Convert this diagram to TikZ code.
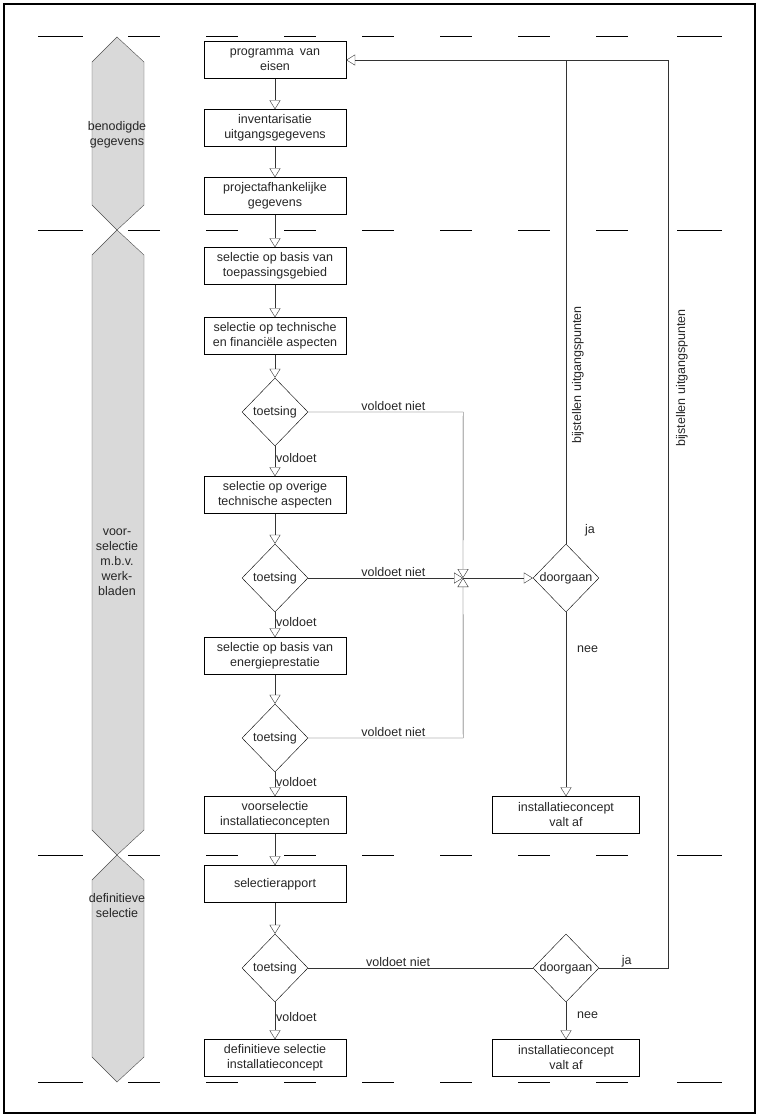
\documentclass[tikz,border=0pt]{standalone}
\usepackage{fontspec}
\setmainfont{Liberation Sans}
\usetikzlibrary{arrows.meta,shapes.geometric}

\begin{document}
\begin{tikzpicture}[
  x=1pt, y=-1pt,
  every node/.style={font=\fontsize{12.5}{15}\selectfont, text=black!85},
  bnode/.style={draw,rectangle,minimum width=142pt,minimum height=37pt,inner sep=1pt,align=center},
  vnode/.style={draw,rectangle,minimum width=147pt,minimum height=37pt,inner sep=1pt,align=center},
  dnode/.style={draw,diamond,minimum width=66pt,minimum height=68pt,inner sep=-3pt},
  hexa/.style={draw=black!70,fill=black!15},
  lbl/.style={inner sep=1pt},
  flow/.style={draw=black!80,-{Triangle[open,length=9pt,width=11pt]}},
  line/.style={draw=black!80}
]
  % frame and phase lines
  \useasboundingbox (0,0) rectangle (759,1117);
  \draw[line width=1.6pt] (4,4) rectangle (755,1113);
  \foreach \y in {36,230,855,1082} {
    \draw (38,\y) -- (83,\y);
    \foreach \x in {128,206,...,600} \draw (\x,\y) -- ++(32,0);
    \draw (677,\y) -- (722,\y);
  }

  % phases
  \path[hexa] (117,37) -- (144,62) -- (144,205) -- (117,230) -- (92,205) -- (92,62) -- cycle;
  \path[hexa] (117,230) -- (144,255) -- (144,830) -- (117,855) -- (92,830) -- (92,255) -- cycle;
  \path[hexa] (117,855) -- (144,880) -- (144,1057) -- (117,1082) -- (92,1057) -- (92,880) -- cycle;
  \node[lbl,align=center] (p1) at (117,135) {benodigde\\gegevens};
  \node[lbl,align=center] (p2) at (117,562) {voor-\\selectie\\m.b.v.\\werk-\\bladen};
  \node[lbl,align=center] (p3) at (117,906) {definitieve\\selectie};

  % main steps
  \node[bnode] (b1) at (275,60) {programma\enspace van\\eisen};
  \node[bnode] (b2) at (275,128) {inventarisatie\\uitgangsgegevens};
  \node[bnode] (b3) at (275,196) {projectafhankelijke\\gegevens};
  \node[bnode] (b4) at (275,266) {selectie op basis van\\toepassingsgebied};
  \node[bnode] (b5) at (275,336) {selectie op technische\\en financiële aspecten};
  \node[dnode] (t1) at (275,412) {toetsing};
  \node[bnode] (b6) at (275,495) {selectie op overige\\technische aspecten};
  \node[dnode] (t2) at (275,578) {toetsing};
  \node[bnode] (b7) at (275,656) {selectie op basis van\\energieprestatie};
  \node[dnode] (t3) at (275,738) {toetsing};
  \node[bnode] (b8) at (275,815) {voorselectie\\installatieconcepten};
  \node[bnode] (b9) at (275,884) {selectierapport};
  \node[dnode] (t4) at (275,968) {toetsing};
  \node[bnode] (b10) at (275,1058) {definitieve selectie\\installatieconcept};

  % decisions
  \coordinate (j1) at (463,578);
  \node[dnode] (d1) at (566,578) {doorgaan};
  \node[vnode] (v1) at (566,815) {installatieconcept\\valt af};
  \node[dnode] (d2) at (566,968) {doorgaan};
  \node[vnode] (v2) at (566,1058) {installatieconcept\\valt af};
  \coordinate (r1) at (566,60);
  \coordinate (r2) at (668,60);

  % flow
  \draw[flow] (b1) -- (b2);
  \draw[flow] (b2) -- (b3);
  \draw[flow] (b3) -- (b4);
  \draw[flow] (b4) -- (b5);
  \draw[flow] (b5) -- (t1);
  \draw[flow] (t1) -- node[lbl,right,pos=0.4] {voldoet} (b6);
  \draw[flow] (b6) -- (t2);
  \draw[flow] (t2) -- node[lbl,right,pos=0.4] {voldoet} (b7);
  \draw[flow] (b7) -- (t3);
  \draw[flow] (t3) -- node[lbl,right,pos=0.4] {voldoet} (b8);
  \draw[flow] (b8) -- (b9);
  \draw[flow] (b9) -- (t4);
  \draw[flow] (t4) -- node[lbl,right,pos=0.4] {voldoet} (b10);

  % voldoet niet
  \draw[flow] (t1.east) -- node[lbl,above,pos=0.55] {voldoet niet} ++(155,0) -- (j1);
  \draw[flow] (t2.east) -- node[lbl,above,pos=0.55] {voldoet niet} (j1);
  \draw[flow] (t3.east) -- node[lbl,above,pos=0.55] {voldoet niet} ++(155,0) -- (j1);
  \draw[flow] (j1) -- (d1.west);
  \draw[line] (t4.east) -- node[lbl,above,pos=0.4] {voldoet niet} (d2.west);

  % doorgaan
  \draw[flow] (d1.north) -- (r1) -- (b1.east);
  \node[lbl] (ja1) at (590,530) {ja};
  \node[lbl,rotate=90] (bu1) at (578,375) {bijstellen uitgangspunten};
  \draw[flow] (d1.south) -- node[lbl,right,pos=0.2,xshift=10pt] {nee} (v1);
  \draw[line] (d2.east) -- node[lbl,above,pos=0.4] {ja} (668,968) -- (r2) -- (r1);
  \node[lbl,rotate=90] (bu2) at (682,378) {bijstellen uitgangspunten};
  \draw[flow] (d2.south) -- node[lbl,right,pos=0.35,xshift=10pt] {nee} (v2);
\end{tikzpicture}
\end{document}
